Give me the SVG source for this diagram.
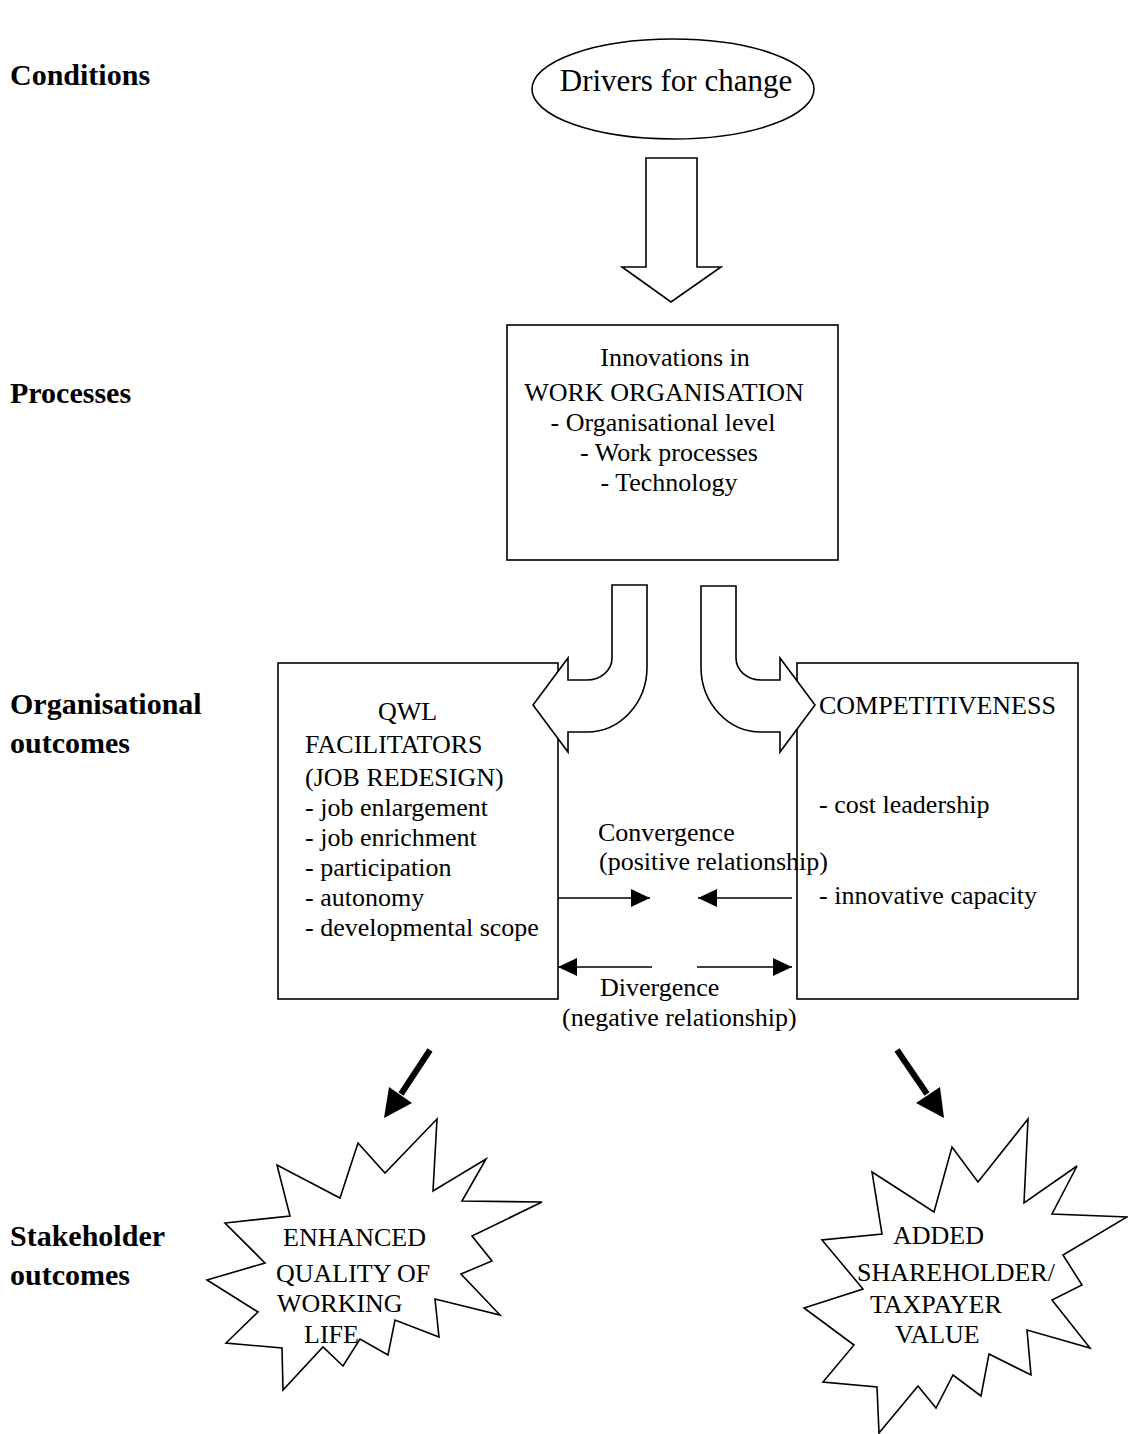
<svg xmlns="http://www.w3.org/2000/svg" width="1128" height="1434" viewBox="0 0 1128 1434">
<style>
.lbl{font-family:"Liberation Serif",serif;font-weight:bold;font-size:30px;fill:#000}
.t{font-family:"Liberation Serif",serif;font-size:26px;fill:#000}
.shape{fill:#fff;stroke:#000;stroke-width:1.6}
.conn{stroke:#000;stroke-width:1.6;fill:none}
</style>
<defs>
<marker id="ah" markerWidth="20" markerHeight="20" refX="19" refY="9" orient="auto" markerUnits="userSpaceOnUse"><path d="M0,0 L19,9 L0,18 Z" fill="#000"/></marker>
</defs>
<rect width="1128" height="1434" fill="#fff"/>
<g id="labels">
<text class="lbl" x="10" y="85">Conditions</text>
<text class="lbl" x="10" y="403">Processes</text>
<text class="lbl" x="10" y="714">Organisational</text>
<text class="lbl" x="10" y="753">outcomes</text>
<text class="lbl" x="10" y="1246">Stakeholder</text>
<text class="lbl" x="10" y="1285">outcomes</text>
</g>
<g id="drivers">
<ellipse class="shape" cx="673" cy="89" rx="141" ry="50"/>
<text class="t" style="font-size:31px" x="676" y="91" text-anchor="middle">Drivers for change</text>
</g>
<g id="innovations">
<rect class="shape" x="507" y="325" width="331" height="235"/>
<text class="t" x="675" y="366" text-anchor="middle">Innovations in</text>
<text class="t" x="664" y="401" text-anchor="middle">WORK ORGANISATION</text>
<text class="t" x="663" y="431" text-anchor="middle">- Organisational level</text>
<text class="t" x="669" y="461" text-anchor="middle">- Work processes</text>
<text class="t" x="669" y="491" text-anchor="middle">- Technology</text>
</g>
<g id="qwl">
<rect class="shape" x="278" y="663" width="280" height="336"/>
<text class="t" x="378" y="720">QWL</text>
<text class="t" x="305" y="753">FACILITATORS</text>
<text class="t" x="305" y="786">(JOB REDESIGN)</text>
<text class="t" x="305" y="816">- job enlargement</text>
<text class="t" x="305" y="846">- job enrichment</text>
<text class="t" x="305" y="876">- participation</text>
<text class="t" x="305" y="906">- autonomy</text>
<text class="t" x="305" y="936">- developmental scope</text>
</g>
<g id="competitiveness">
<rect class="shape" x="797" y="663" width="281" height="336"/>
<text class="t" x="819" y="714">COMPETITIVENESS</text>
<text class="t" x="819" y="813">- cost leadership</text>
<text class="t" x="819" y="904">- innovative capacity</text>
</g>
<g id="enhanced">
<polygon class="shape" points="437,1119 433,1191 486,1159 462,1201 542,1202 472,1236 492,1261 461,1274 500,1315 435,1299 439,1337 395,1320 388,1355 360,1339 343,1366 323,1347 283,1390 282,1348 226,1343 258,1312 207,1280 265,1263 225,1223 290,1216 277,1165 340,1198 358,1143 385,1173"/>
<text class="t" x="283" y="1246">ENHANCED</text>
<text class="t" x="276" y="1282">QUALITY OF</text>
<text class="t" x="277" y="1312">WORKING</text>
<text class="t" x="304" y="1343">LIFE</text>
</g>
<g id="added">
<polygon class="shape" points="1028,1119 1024,1203 1077,1166 1052,1214 1127,1217 1063,1255 1082,1285 1052,1300 1090,1348 1027,1330 1031,1375 989,1354 981,1396 953,1375 936,1408 918,1386 879,1433 877,1387 823,1382 854,1345 804,1308 863,1289 822,1240 882,1234 872,1172 934,1212 952,1147 978,1182"/>
<text class="t" x="893" y="1244">ADDED</text>
<text class="t" x="857" y="1281">SHAREHOLDER/</text>
<text class="t" x="870" y="1313">TAXPAYER</text>
<text class="t" x="895" y="1343">VALUE</text>
</g>
<g id="relations">
<text class="t" x="598" y="841">Convergence</text>
<text class="t" x="599" y="870">(positive relationship)</text>
<text class="t" x="600" y="996">Divergence</text>
<text class="t" x="562" y="1026">(negative relationship)</text>
</g>
<g id="connectors">
<path class="shape" d="M646,158 L697,158 L697,267 L721,267 L671,302 L622,267 L646,267 Z"/>
<path class="shape" d="M612,585 L647,585 L647,667 A60,65 0 0 1 587,732 L568,732 L568,752 L533,705 L568,658 L568,680 L587,680 A25,22 0 0 0 612,658 Z"/>
<path class="shape" d="M736,586 L701,586 L701,667 A60,65 0 0 0 761,732 L780,732 L780,752 L815,705 L780,658 L780,680 L761,680 A25,22 0 0 1 736,658 Z"/>
<line class="conn" x1="558" y1="898" x2="650" y2="898" marker-end="url(#ah)"/>
<line class="conn" x1="792" y1="898" x2="698" y2="898" marker-end="url(#ah)"/>
<line class="conn" x1="652" y1="967" x2="558" y2="967" marker-end="url(#ah)"/>
<line class="conn" x1="697" y1="967" x2="792" y2="967" marker-end="url(#ah)"/>
<line x1="430" y1="1050" x2="401" y2="1094" stroke="#000" stroke-width="6"/>
<polygon points="384,1118 389,1087 412,1103" fill="#000"/>
<line x1="897" y1="1050" x2="927" y2="1094" stroke="#000" stroke-width="6"/>
<polygon points="944,1118 916,1103 940,1087" fill="#000"/>
</g>
</svg>
